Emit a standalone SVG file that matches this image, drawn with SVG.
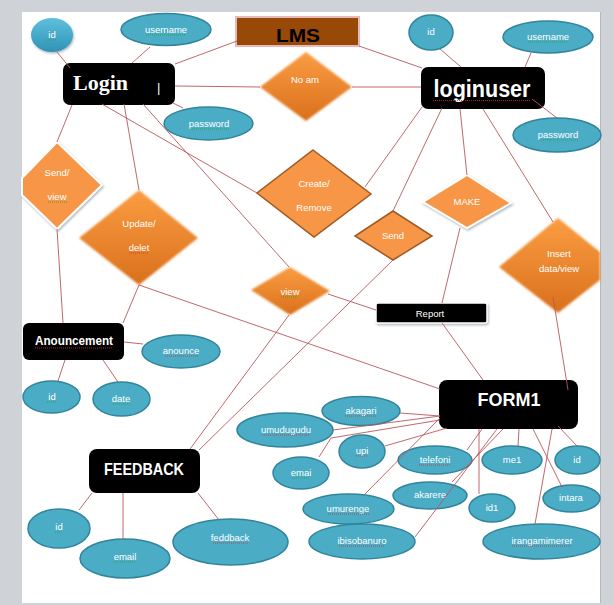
<svg xmlns="http://www.w3.org/2000/svg" width="613" height="605" viewBox="0 0 613 605">
<defs>
<linearGradient id="og" x1="0" y1="0" x2="0" y2="1"><stop offset="0" stop-color="#fb9d42"/><stop offset="1" stop-color="#d9701c"/></linearGradient>
<linearGradient id="tg" x1="0" y1="0" x2="0" y2="1"><stop offset="0" stop-color="#5ec0dc"/><stop offset="1" stop-color="#2f93b6"/></linearGradient>
<filter id="sh" x="-20%" y="-20%" width="140%" height="140%"><feDropShadow dx="1" dy="1.5" stdDeviation="1.2" flood-color="#7a8a9a" flood-opacity="0.6"/></filter>
<filter id="soft" x="-10%" y="-10%" width="120%" height="120%"><feGaussianBlur stdDeviation="0.8"/></filter>
</defs>
<style>
.ell{fill:#4bacc6;stroke:#31849b;stroke-width:1.5}
.lbl{font-family:"Liberation Sans",Arial,sans-serif;font-size:9.5px;fill:#fff;text-anchor:middle}
.box{fill:#000}
.big{font-family:"Liberation Sans",Arial,sans-serif;font-weight:bold;fill:#fff;text-anchor:middle}
.cn{stroke:#b9575b;stroke-width:0.9;fill:none}
.dg{fill:url(#og)}
.dflat{fill:#f79646;stroke:#9e5a24;stroke-width:1.5}
.dwhite{fill:#f79646;stroke:#fff;stroke-width:2}
.ur{stroke:#e02a2a;stroke-width:0.8;stroke-dasharray:1 1}
.ug{stroke:#2aa02a;stroke-width:0.8;stroke-dasharray:1 1}
</style>
<rect x="0" y="0" width="613" height="605" fill="#cfd2d7"/>
<rect x="22" y="12" width="578" height="591" fill="#fff"/>
<line x1="600.5" y1="12" x2="600.5" y2="603" stroke="#b5b8bd"/>

<g id="n-lms"><rect x="236" y="17" width="123" height="29" fill="#984807" stroke="#e6b9b8" stroke-width="2"/><text x="298" y="42" font-family="Liberation Sans,Arial,sans-serif" font-weight="bold" font-size="18" text-anchor="middle" fill="#000" textLength="44" lengthAdjust="spacingAndGlyphs">LMS</text></g>

<g id="n-login"><rect class="box" x="63" y="63" width="112" height="42" rx="7"/><text x="73" y="90" font-family="Liberation Serif,serif" font-weight="bold" font-size="21" fill="#fff" textLength="55" lengthAdjust="spacingAndGlyphs">Login</text><text x="157" y="92" font-family="Liberation Sans,sans-serif" font-size="13" fill="#fff">|</text></g>
<g id="n-loginuser"><rect class="box" x="421" y="67" width="124" height="42" rx="7"/><text class="big" x="482" y="97" font-size="23" textLength="97" lengthAdjust="spacingAndGlyphs">loginuser</text><line class="ur" x1="433" y1="100.5" x2="530" y2="100.5"/></g>

<g id="n-id-login"><ellipse cx="52" cy="35" rx="21" ry="17" fill="url(#tg)" filter="url(#sh)"/><text class="lbl" x="52" y="38">id</text><line class="ug" x1="47" y1="40" x2="57" y2="40"/></g>
<g id="n-username-login"><ellipse class="ell" cx="166" cy="29.5" rx="45" ry="16"/><text class="lbl" x="166" y="33">username</text><line class="ug" x1="146" y1="35" x2="186" y2="35"/></g>
<g id="n-password-login"><ellipse class="ell" cx="208.5" cy="123.5" rx="44.5" ry="16.5"/><text class="lbl" x="209" y="127">password</text><line class="ug" x1="190" y1="129" x2="229" y2="129"/></g>
<g id="n-id-user"><ellipse class="ell" cx="431" cy="32.5" rx="22" ry="17.5"/><text class="lbl" x="431" y="35">id</text></g>
<g id="n-username-user"><ellipse class="ell" cx="548" cy="37" rx="45" ry="16"/><text class="lbl" x="548" y="40">username</text><line class="ug" x1="528" y1="42" x2="568" y2="42"/></g>
<g id="n-password-user"><ellipse class="ell" cx="557" cy="135" rx="44" ry="17"/><text class="lbl" x="558" y="138">password</text><line class="ug" x1="539" y1="140" x2="578" y2="140"/></g>

<g id="d-noam"><polygon class="dg" points="306,52 352,87 306,121 260,87" filter="url(#soft)"/><text class="lbl" x="305" y="83">No  am</text></g>
<g id="d-sendview"><polygon class="dwhite" points="57,142 102,185 57,229 22,195 22,178" filter="url(#sh)"/><text class="lbl" x="57" y="176">Send/</text><text class="lbl" x="57" y="200">view</text><line class="ug" x1="48" y1="202" x2="67" y2="202"/></g>
<g id="d-update"><polygon class="dg" points="139,190 198,238 139,285 79,238" filter="url(#soft)"/><text class="lbl" x="139" y="227">Update/</text><text class="lbl" x="139" y="251">delet</text><line class="ur" x1="129" y1="253" x2="149" y2="253"/></g>
<g id="d-create"><polygon class="dflat" points="313,150 371,194 314,237 257,193"/><text class="lbl" x="314" y="187">Create/</text><text class="lbl" x="314" y="211">Remove</text></g>
<g id="d-send"><polygon class="dflat" points="393,211 432,236 393,260 355,236"/><text class="lbl" x="393" y="239">Send</text></g>
<g id="d-view"><polygon class="dg" points="290,267 330,291 290,315 251,290" filter="url(#soft)"/><text class="lbl" x="290" y="295">view</text><line class="ug" x1="281" y1="297" x2="299" y2="297"/></g>
<g id="d-make"><polygon class="dwhite" points="467,175 511,203 467,228 423,202" filter="url(#sh)"/><text class="lbl" x="467" y="205">MAKE</text></g>
<g id="d-insert"><polygon class="dg" points="558,218 600,252 600,280 558,313 499,267" filter="url(#soft)"/><text class="lbl" x="559" y="257">Insert</text><text class="lbl" x="559" y="272">data/view</text></g>

<g id="n-report"><rect x="376" y="303" width="111" height="20" rx="2" fill="#000" stroke="#fff" stroke-width="1.5" filter="url(#sh)"/><text class="lbl" x="430" y="317" font-size="10">Report</text></g>

<g id="n-anouncement"><rect class="box" x="23" y="323" width="101" height="37" rx="6"/><text class="big" x="74" y="345" font-size="12.5" textLength="78" lengthAdjust="spacingAndGlyphs">Anouncement</text><line class="ur" x1="35" y1="348" x2="113" y2="348"/></g>
<g id="n-anounce"><ellipse class="ell" cx="181" cy="351.5" rx="39" ry="16.5"/><text class="lbl" x="181" y="354">anounce</text><line class="ur" x1="165" y1="356" x2="198" y2="356"/></g>
<g id="n-id-anounce"><ellipse class="ell" cx="51.5" cy="397" rx="28.5" ry="16"/><text class="lbl" x="52" y="400">id</text><line class="ug" x1="47" y1="402" x2="56" y2="402"/></g>
<g id="n-date"><ellipse class="ell" cx="121.5" cy="399" rx="28.5" ry="17"/><text class="lbl" x="121" y="402">date</text><line class="ug" x1="113" y1="404" x2="130" y2="404"/></g>

<g id="n-form1"><rect class="box" x="439" y="380" width="139" height="49" rx="8"/><text class="big" x="509" y="406" font-size="19" textLength="63" lengthAdjust="spacingAndGlyphs">FORM1</text></g>
<g id="n-akagari"><ellipse class="ell" cx="361" cy="411" rx="39" ry="14.5"/><text class="lbl" x="361" y="414">akagari</text><line class="ur" x1="345" y1="416" x2="377" y2="416"/></g>
<g id="n-umudugudu"><ellipse class="ell" cx="285" cy="430" rx="48" ry="17"/><text class="lbl" x="286" y="433">umudugudu</text><line class="ur" x1="262" y1="435" x2="309" y2="435"/></g>
<g id="n-upi"><ellipse class="ell" cx="362" cy="451.5" rx="23" ry="16.5"/><text class="lbl" x="362" y="454">upi</text><line class="ur" x1="356" y1="456" x2="368" y2="456"/></g>
<g id="n-emai"><ellipse class="ell" cx="301" cy="473" rx="28" ry="16"/><text class="lbl" x="301" y="476">emai</text><line class="ug" x1="292" y1="478" x2="310" y2="478"/></g>
<g id="n-telefoni"><ellipse class="ell" cx="435" cy="460" rx="37" ry="14"/><text class="lbl" x="435" y="463">telefoni</text><line class="ur" x1="419" y1="465" x2="451" y2="465"/></g>
<g id="n-me1"><ellipse class="ell" cx="512" cy="460" rx="30" ry="14"/><text class="lbl" x="512" y="463">me1</text></g>
<g id="n-id-form"><ellipse class="ell" cx="577.5" cy="460" rx="22.5" ry="14"/><text class="lbl" x="577" y="463">id</text></g>
<g id="n-akarere"><ellipse class="ell" cx="430" cy="495.5" rx="37" ry="13.5"/><text class="lbl" x="430" y="498">akarere</text></g>
<g id="n-id1"><ellipse class="ell" cx="492" cy="508" rx="23" ry="14"/><text class="lbl" x="492" y="511">id1</text></g>
<g id="n-intara"><ellipse class="ell" cx="571.5" cy="498.5" rx="28.5" ry="13.5"/><text class="lbl" x="571" y="501">intara</text></g>
<g id="n-umurenge"><ellipse class="ell" cx="348.5" cy="509" rx="45.5" ry="15"/><text class="lbl" x="348" y="512">umurenge</text><line class="ur" x1="328" y1="514" x2="369" y2="514"/></g>
<g id="n-ibisobanuro"><ellipse class="ell" cx="362" cy="541.5" rx="53" ry="17.5"/><text class="lbl" x="362" y="544">ibisobanuro</text><line class="ur" x1="339" y1="546" x2="385" y2="546"/></g>
<g id="n-irangamimerer"><ellipse class="ell" cx="541.5" cy="541.5" rx="58.5" ry="17.5"/><text class="lbl" x="542" y="544">irangamimerer</text><line class="ur" x1="512" y1="546" x2="572" y2="546"/></g>

<g id="n-feedback"><rect class="box" x="89" y="449" width="111" height="44" rx="8"/><text class="big" x="144" y="475" font-size="17" textLength="80" lengthAdjust="spacingAndGlyphs">FEEDBACK</text></g>
<g id="n-id-feedback"><ellipse class="ell" cx="59" cy="528.5" rx="31" ry="19.5"/><text class="lbl" x="59" y="530">id</text><line class="ug" x1="55" y1="532" x2="63" y2="532"/></g>
<g id="n-email"><ellipse class="ell" cx="125" cy="558.5" rx="45" ry="19.5"/><text class="lbl" x="125" y="560">email</text><line class="ug" x1="114" y1="562" x2="136" y2="562"/></g>
<g id="n-feddback"><ellipse class="ell" cx="230.5" cy="542" rx="57.5" ry="23"/><text class="lbl" x="230" y="541">feddback</text><line class="ur" x1="213" y1="543" x2="248" y2="543"/></g>

<g id="connectors">
<line class="cn" x1="57" y1="52" x2="70" y2="68"/>
<line class="cn" x1="150" y1="47" x2="132" y2="63"/>
<line class="cn" x1="237" y1="41" x2="175" y2="64"/>
<line class="cn" x1="175" y1="86" x2="260" y2="87"/>
<line class="cn" x1="173" y1="103" x2="183" y2="108"/>
<line class="cn" x1="352" y1="87" x2="421" y2="87"/>
<line class="cn" x1="359" y1="46" x2="422" y2="68"/>
<line class="cn" x1="440" y1="49" x2="461" y2="67"/>
<line class="cn" x1="531" y1="53" x2="525" y2="67"/>
<line class="cn" x1="532" y1="99" x2="557" y2="118"/>
<line class="cn" x1="422" y1="107" x2="365" y2="187"/>
<line class="cn" x1="442" y1="108" x2="393" y2="211"/>
<line class="cn" x1="460" y1="109" x2="467" y2="175"/>
<line class="cn" x1="483" y1="109" x2="553" y2="222"/>
<line class="cn" x1="72" y1="105" x2="57" y2="142"/>
<line class="cn" x1="124" y1="104" x2="139" y2="190"/>
<line class="cn" x1="102" y1="104" x2="257" y2="193"/>
<line class="cn" x1="143" y1="104" x2="289" y2="267"/>
<line class="cn" x1="57" y1="229" x2="63" y2="323"/>
<line class="cn" x1="139" y1="285" x2="123" y2="323"/>
<line class="cn" x1="139" y1="285" x2="440" y2="389"/>
<line class="cn" x1="289" y1="315" x2="190" y2="449"/>
<line class="cn" x1="393" y1="260" x2="199" y2="450"/>
<line class="cn" x1="328" y1="294" x2="376" y2="310"/>
<line class="cn" x1="460" y1="228" x2="442" y2="303"/>
<line class="cn" x1="442" y1="323" x2="483" y2="380"/>
<line class="cn" x1="553" y1="297" x2="568" y2="390"/>
<line class="cn" x1="124" y1="342" x2="143" y2="344"/>
<line class="cn" x1="65" y1="360" x2="58" y2="381"/>
<line class="cn" x1="103" y1="360" x2="118" y2="382"/>
<line class="cn" x1="92" y1="493" x2="79" y2="510"/>
<line class="cn" x1="123" y1="493" x2="123" y2="539"/>
<line class="cn" x1="198" y1="493" x2="219" y2="520"/>
<line class="cn" x1="400" y1="413" x2="440" y2="416"/>
<line class="cn" x1="333" y1="430" x2="440" y2="416"/>
<polyline class="cn" points="319,457 331,438 440,420"/>
<line class="cn" x1="385" y1="446" x2="447" y2="428"/>
<line class="cn" x1="365" y1="494" x2="440" y2="418"/>
<line class="cn" x1="467" y1="450" x2="482" y2="429"/>
<line class="cn" x1="497" y1="429" x2="415" y2="537"/>
<line class="cn" x1="503" y1="429" x2="452" y2="482"/>
<line class="cn" x1="479" y1="494" x2="479" y2="429"/>
<line class="cn" x1="518" y1="446" x2="519" y2="429"/>
<line class="cn" x1="562" y1="487" x2="533" y2="429"/>
<line class="cn" x1="577" y1="446" x2="558" y2="426"/>
<line class="cn" x1="535" y1="524" x2="552" y2="429"/>
</g>
</svg>
